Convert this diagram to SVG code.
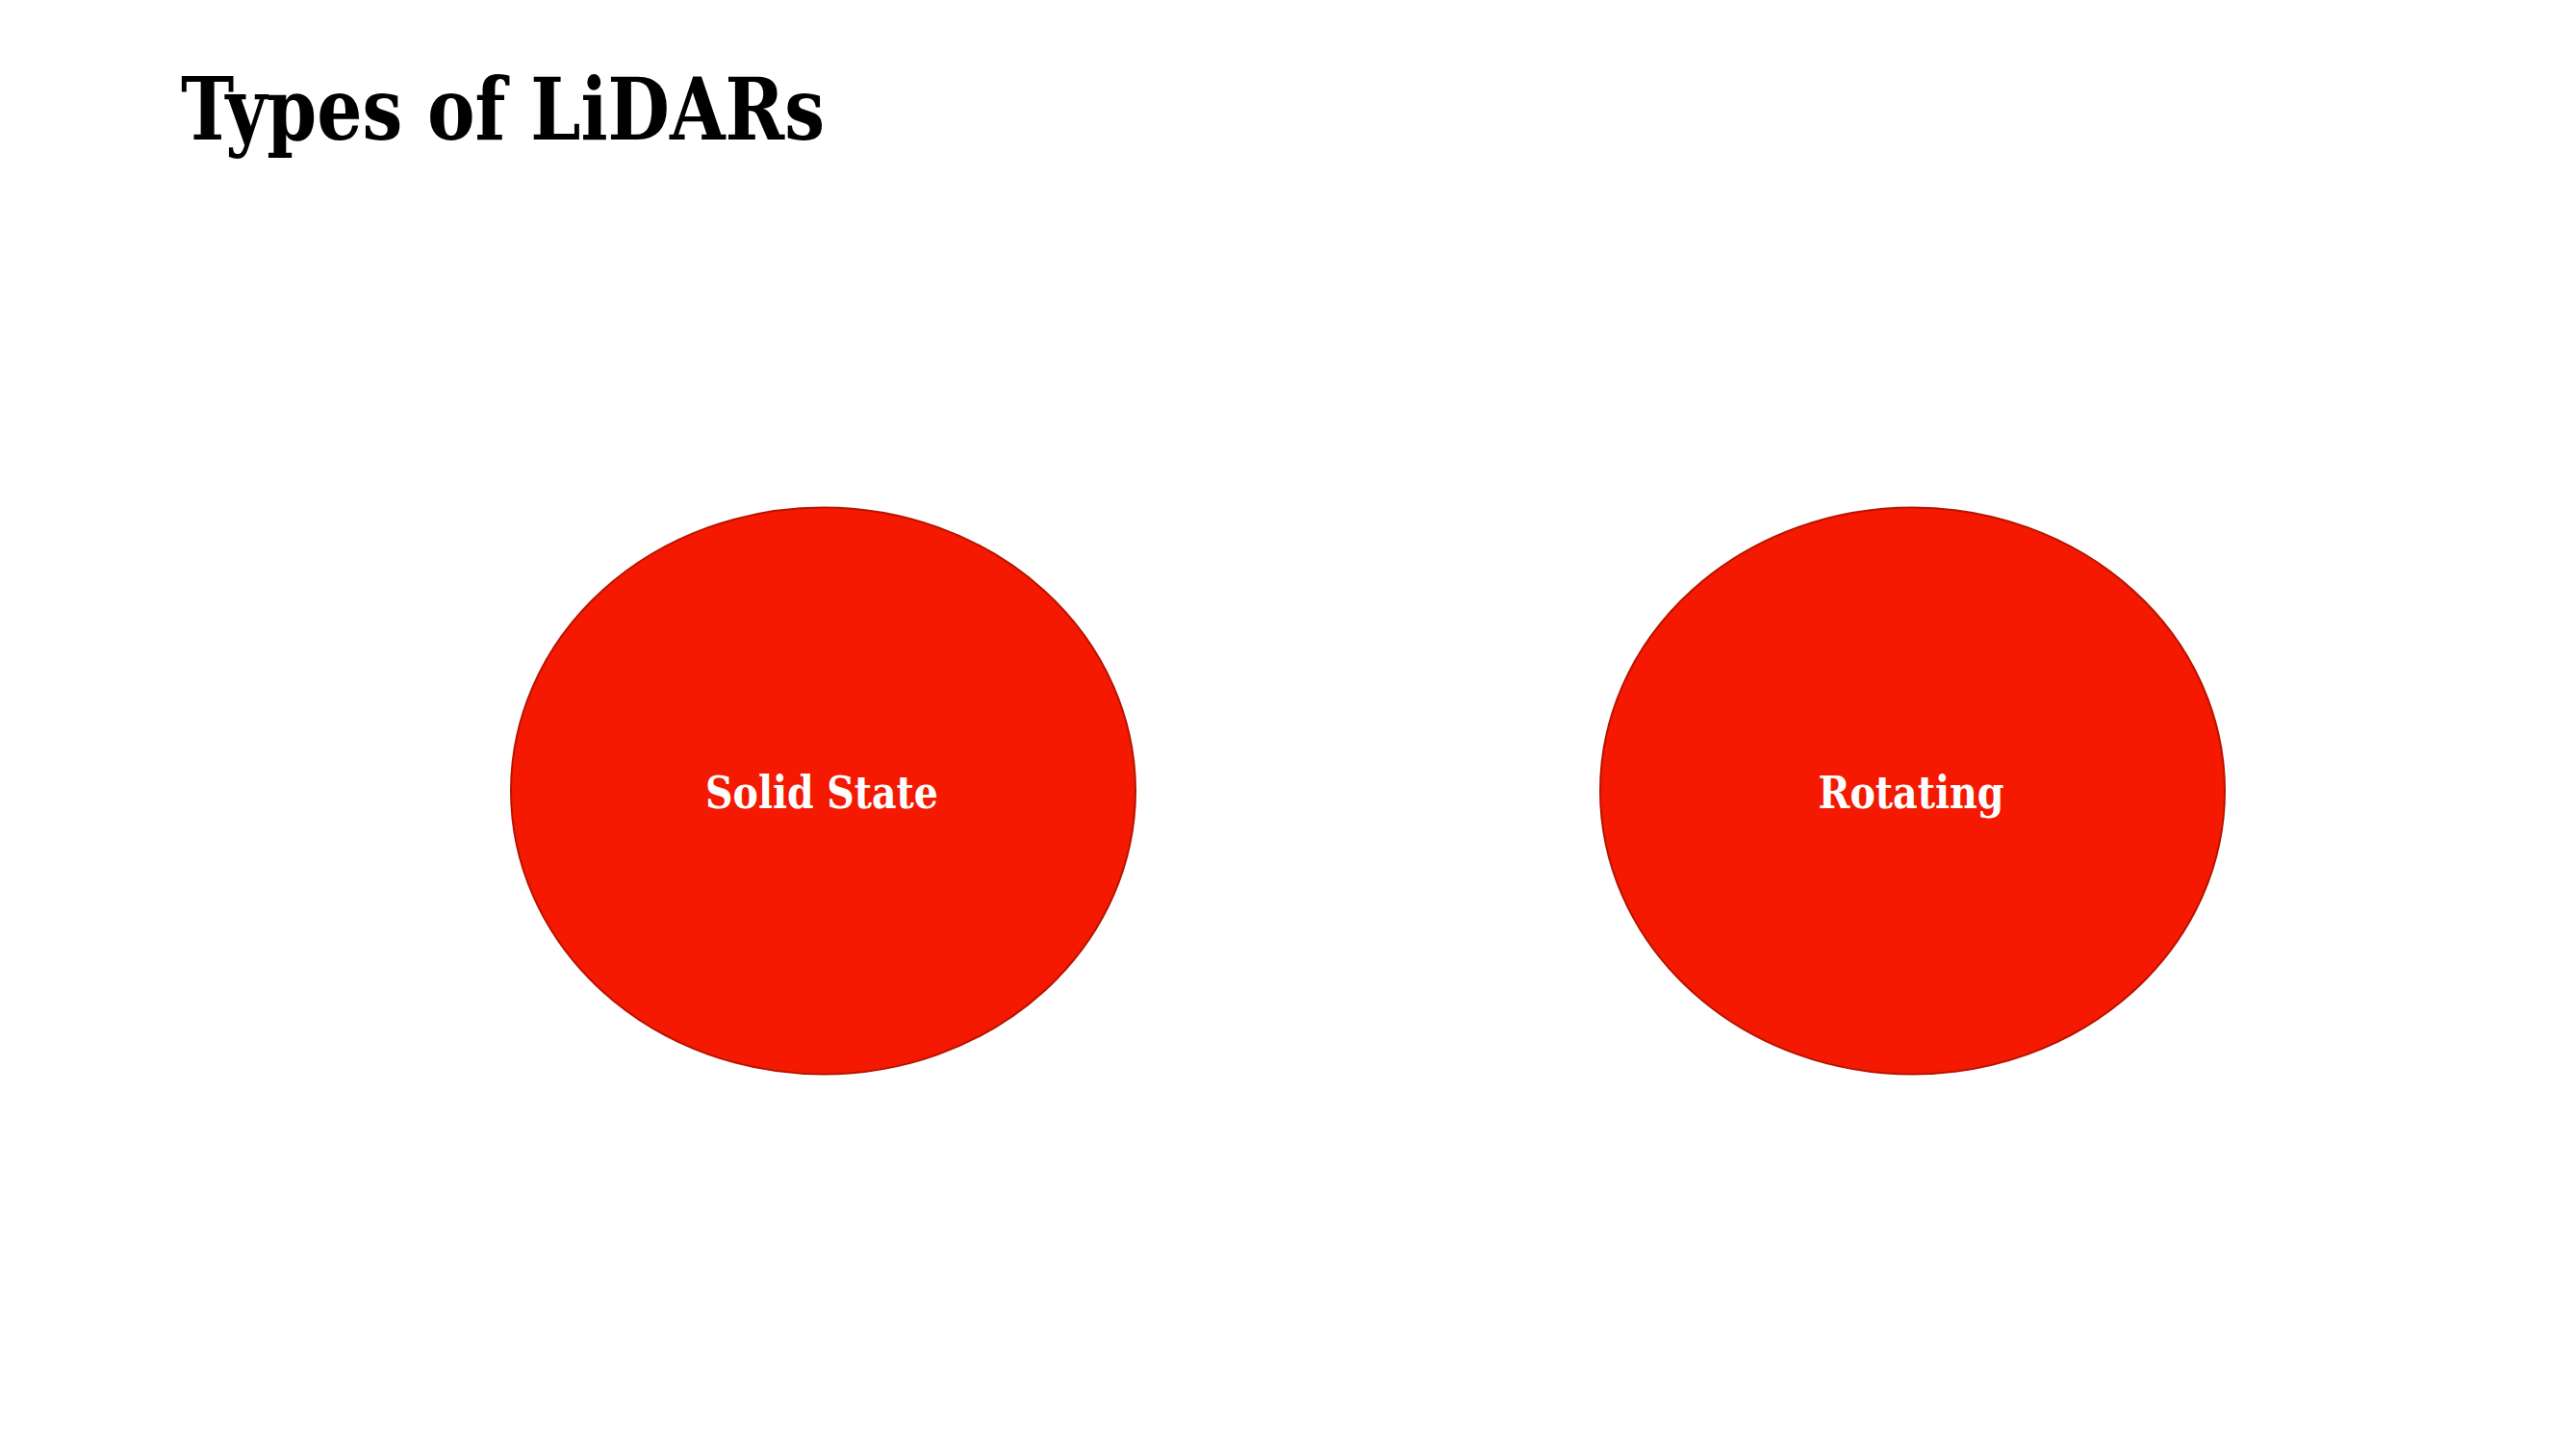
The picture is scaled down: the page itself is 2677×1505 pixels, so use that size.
<svg xmlns="http://www.w3.org/2000/svg" width="2677" height="1505" viewBox="0 0 2677 1505">
<style>
.node{fill:#F41900;stroke:#B81400;stroke-width:2}
.lbl{font-family:"DejaVu Serif Condensed","DejaVu Serif","Liberation Serif",serif;font-size:47px;font-weight:bold;fill:#ffffff;text-anchor:middle}
.title{font-family:"DejaVu Serif Condensed","DejaVu Serif","Liberation Serif",serif;font-size:90px;font-weight:bold;fill:#000000}
</style>
<rect width="2677" height="1505" fill="#ffffff"/>
<text class="title" x="188" y="145" textLength="669" lengthAdjust="spacingAndGlyphs">Types of LiDARs</text>
<g id="connectors"></g>
<g id="node-solid-state">
<ellipse class="node" cx="855.5" cy="822" rx="324.5" ry="294.5"/>
<text class="lbl" x="854" y="840" textLength="242" lengthAdjust="spacingAndGlyphs">Solid State</text>
</g>
<g id="node-rotating">
<ellipse class="node" cx="1987.5" cy="822" rx="324.5" ry="294.5"/>
<text class="lbl" x="1986" y="840" textLength="193" lengthAdjust="spacingAndGlyphs">Rotating</text>
</g>
</svg>
